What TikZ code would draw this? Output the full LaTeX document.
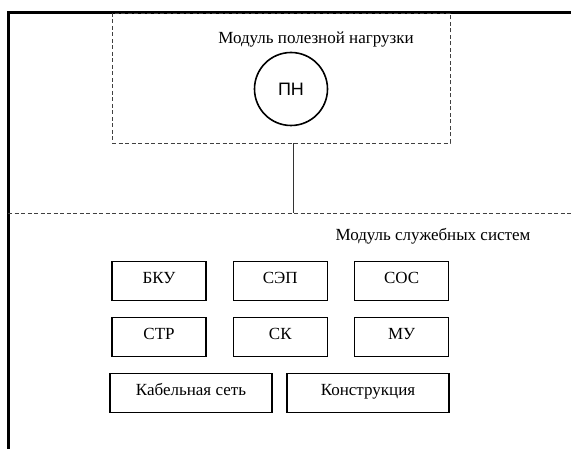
\documentclass[tikz,border=0pt]{standalone}
\usepackage{fontspec}
\setmainfont{Liberation Serif}
\newfontfamily\pnfont{Liberation Sans}
\usetikzlibrary{positioning}

\begin{document}
\begin{tikzpicture}[
        x=1pt, y=-1pt,
        node distance=16pt and 26pt,
        font=\fontsize{17}{19}\selectfont,
        frame/.style={line width=3pt},
        module/.style={draw=black!75, dashed, dash pattern=on 4pt off 2.5pt, line width=0.9pt},
        payload/.style={draw, circle, line width=1.6pt, minimum size=73pt, inner sep=0pt, font=\pnfont\fontsize{18}{20}\selectfont},
        sysbox/.style={draw, rectangle, line width=1.3pt, minimum width=94pt, minimum height=39pt, inner sep=0pt, text height=1.6ex, text depth=0.5ex},
        widebox/.style={sysbox, minimum width=162pt},
        link/.style={line width=0.9pt, black!80}
    ]
    \useasboundingbox (0,0) rectangle (571,449);

    % outer frame
    \draw[frame] (571,13) -- (8,13) -- (8,449);

    % payload module
    \node[module, rectangle, minimum width=338pt, minimum height=130pt] (PNmod) at (281,78) {};
    \node (PNtitle) at (316,40) {Модуль полезной нагрузки};
    \node[payload] (PN) at (291,89) {ПН};

    % service systems module
    \draw[module] (8,213) -- (571,213);
    \coordinate (Join) at (293,213);
    \draw[link] (Join |- PNmod.south) -- (Join);
    \node (SStitle) at (433,236) {Модуль служебных систем};

    \node[sysbox] (BKU) at (159,281) {БКУ};
    \node[sysbox, right=of BKU] (SEP) {СЭП};
    \node[sysbox, right=of SEP] (SOS) {СОС};
    \node[sysbox, below=of BKU] (STR) {СТР};
    \node[sysbox, below=of SEP] (SK) {СК};
    \node[sysbox, below=of SOS] (MU) {МУ};
    \node[widebox] (Cable) at (191,393) {Кабельная сеть};
    \node[widebox] (Constr) at (368,393) {Конструкция};

\end{tikzpicture}
\end{document}
